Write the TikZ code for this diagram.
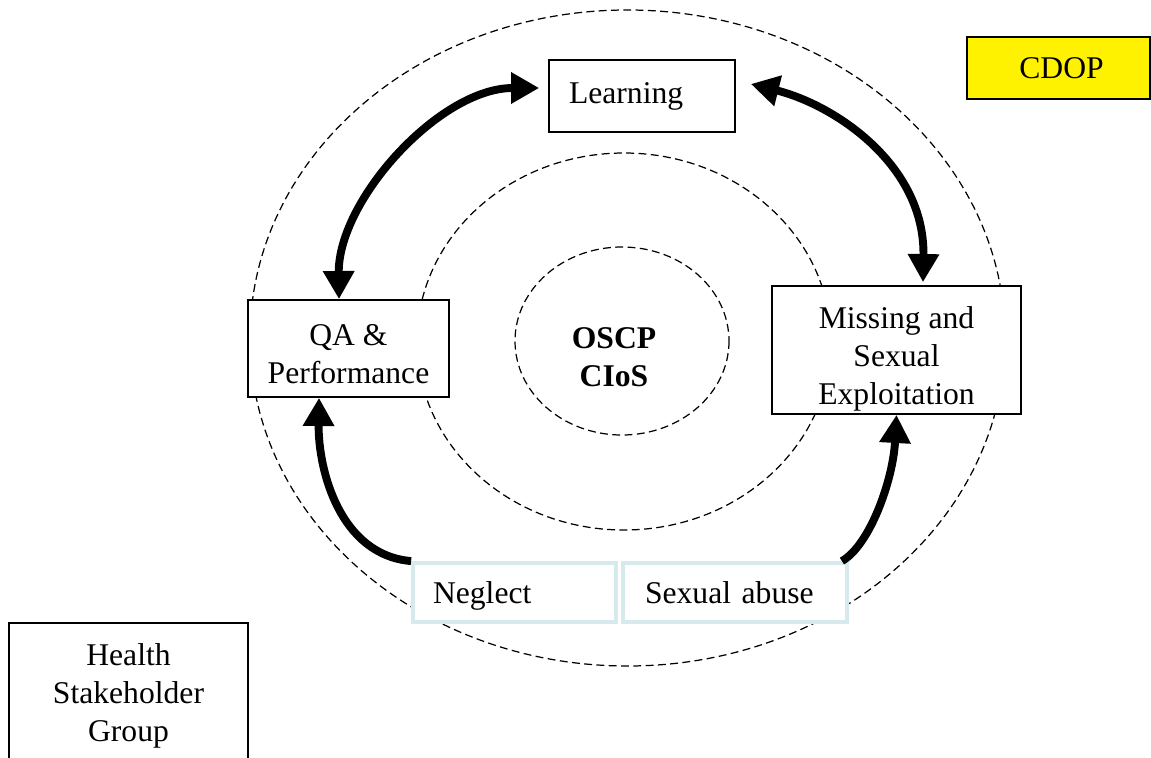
\documentclass[tikz,border=0pt]{standalone}
\usepackage{fontspec}
\setmainfont{Liberation Serif}
\usetikzlibrary{arrows.meta}
\definecolor{paleaqua}{RGB}{214,234,238}

\begin{document}
\begin{tikzpicture}[x=0.02cm,y=-0.02cm,>={Triangle[length=16pt,width=17pt]},
        font=\fontsize{18}{21.5}\selectfont,
        plain box/.style={rectangle,draw,fill=white,line width=1pt,inner sep=0pt,align=center},
        theme box/.style={rectangle,draw=paleaqua,fill=white,line width=2.2pt,inner sep=0pt,align=left,
            text height=12pt,text depth=0pt},
        ring/.style={draw,line width=0.7pt,dash pattern=on 4.5pt off 2.5pt},
        link/.style={line width=4.5pt}]
        \useasboundingbox (0,0) rectangle (1151,757);
        \draw[ring] (627.5,338) ellipse [x radius=377.5, y radius=328];
        \draw[ring] (624,341.5) ellipse [x radius=207, y radius=188.5];
        \draw[ring] (622,341) ellipse [x radius=107, y radius=94];
        \node[font=\fontsize{18}{21.5}\selectfont\bfseries, align=center] (core) at (614,357) {OSCP\\CIoS};
        \node[plain box, minimum width=3.72cm, minimum height=1.44cm, text width=2.92cm, align=left] (learning) at (642,96) {Learning};
        \node[plain box, minimum width=4.02cm, minimum height=1.94cm, text height=39.5pt] (qa) at (348.5,348.5) {QA \&\\Performance};
        \node[plain box, minimum width=4.98cm, minimum height=2.56cm, text height=65.5pt] (missing) at (896.5,350) {Missing and\\Sexual\\Exploitation};
        \node[theme box, minimum width=4.06cm, minimum height=1.18cm, text width=3.26cm] (neglect) at (514.5,592.5) {Neglect};
        \node[theme box, minimum width=4.48cm, minimum height=1.18cm, text width=3.6cm] (abuse) at (735,592.5) {Sexual abuse};
        \node[plain box, fill=yellow, minimum width=3.66cm, minimum height=1.24cm, text width=3.4cm] (cdop) at (1058.5,68) {\hspace*{0.12cm}CDOP};
        \node[plain box, minimum width=4.78cm, minimum height=2.92cm, anchor=north] (health) at (128.5,622) {Health\\Stakeholder\\Group};
        \draw[link,<->] ([xshift=-0.19cm]qa.north) .. controls (338,200) and (440,88) .. ([xshift=-0.18cm,yshift=0.16cm]learning.west);
        \draw[link,<->] ([xshift=0.3cm,yshift=0.24cm]learning.east) .. controls (835,105) and (925,165) .. ([xshift=0.53cm,yshift=0.06cm]missing.north);
        \draw[link,->] (neglect.north west) .. controls (340,555) and (318,470) .. ([xshift=-0.59cm]qa.south);
        \draw[link,->] ([xshift=-0.14cm]abuse.north east) .. controls (870,545) and (893,480) .. (missing.south);
\end{tikzpicture}
\end{document}
